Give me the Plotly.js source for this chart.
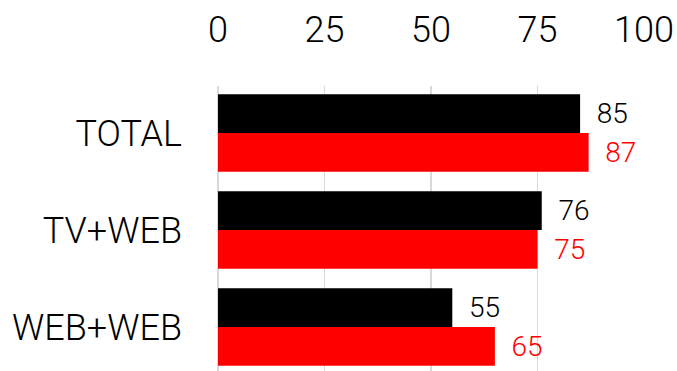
<!DOCTYPE html>
<html>
<head>
<meta charset="utf-8">
<script src="https://cdn.plot.ly/plotly-3.0.1.min.js"></script>
<style>
  html, body { margin: 0; padding: 0; background: #ffffff; overflow: hidden; }
  #chart { width: 677px; height: 371px; }
</style>
</head>
<body>
<div id="chart"></div>
<script>
// Audience reach by platform combination
const categories = ['TOTAL', 'TV+WEB', 'WEB+WEB'];
const seriesBlack = [85, 76, 55];
const seriesRed = [87, 75, 65];
const xTicks = [0, 25, 50, 75, 100];

const FONT = 'Roboto, "Open Sans", sans-serif';

function barTrace(values, color, name) {
  return {
    type: 'bar',
    orientation: 'h',
    name: name,
    y: categories,
    x: values,
    marker: { color: color, line: { width: 0 } },
    text: values.map(String),
    texttemplate: '\u00a0\u00a0%{text}',
    textposition: 'outside',
    constraintext: 'none',
    cliponaxis: false,
    textfont: { family: FONT, size: 28, color: color, weight: 300 },
    hoverinfo: 'skip'
  };
}

const data = [
  barTrace(seriesBlack, '#000000', 'A'),
  barTrace(seriesRed, '#ff0000', 'B')
];

const layout = {
  width: 677,
  height: 371,
  margin: { l: 218, r: 33, t: 86, b: 0, pad: 0 },
  paper_bgcolor: '#ffffff',
  plot_bgcolor: '#ffffff',
  showlegend: false,
  barmode: 'group',
  bargap: 0.2,
  bargroupgap: 0,
  font: { family: FONT, color: '#000000', weight: 300 },
  xaxis: {
    side: 'top',
    range: [0, 100],
    tickvals: xTicks,
    ticktext: xTicks.map(String),
    showgrid: true,
    gridcolor: '#d9d9d9',
    gridwidth: 1.5,
    zeroline: true,
    zerolinecolor: '#d9d9d9',
    zerolinewidth: 1.5,
    showline: false,
    ticks: '',
    ticklabelstandoff: 36,
    tickfont: { family: FONT, size: 36, color: '#000000', weight: 300 },
    fixedrange: true
  },
  yaxis: {
    type: 'category',
    autorange: false,
    range: [2.454, -0.485],
    showgrid: false,
    zeroline: false,
    showline: false,
    ticks: '',
    ticklabelstandoff: 35,
    tickfont: { family: FONT, size: 36, color: '#000000', weight: 300 },
    fixedrange: true
  }
};

Plotly.newPlot('chart', data, layout, { displayModeBar: false, staticPlot: true });
</script>
</body>
</html>
